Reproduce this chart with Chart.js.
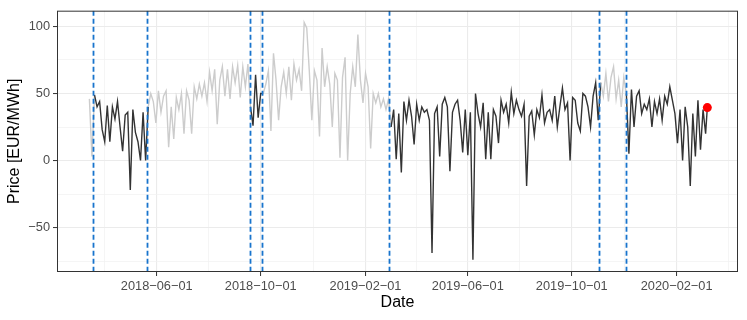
<!DOCTYPE html>
<html>
<head>
<meta charset="utf-8">
<script src="https://cdn.jsdelivr.net/npm/chart.js@4.4.0/dist/chart.umd.min.js"></script>
<style>
  html, body { margin: 0; padding: 0; background: #fff; }
  #wrap { width: 747px; height: 320px; position: relative; }
</style>
</head>
<body>
<div id="wrap"><canvas id="priceChart"></canvas></div>
<script>
/* ------------------------------------------------------------
   Data: daily price [EUR/MWh], one reading every 3 days
   grey = outside the test windows, black = inside
   ------------------------------------------------------------ */
var STEP_DAYS = 3;

var grayPreStart = '2018-03-14';
var grayPre = [46, 3];

var test1Start = '2018-03-20';
var test1 = [49, 40, 44, 23, 14, 41, 14, 40, 31, 44, 25, 7, 34, 36, -22, 38, 21, 14, 0, 36, 0];

var gray1Start = '2018-05-22';
var gray1 = [40, 50, 44, 28, 52, 36, 48, 52, 10, 40, 16, 47, 38, 50, 20, 52, 45, 20, 55, 46,
             57, 48, 58, 44, 66, 52, 68, 27, 60, 70, 48, 68, 46, 70, 58, 71, 47, 70, 55, 72];

var test2Start = '2018-09-19';
var test2 = [40, 26, 64, 32, 50];

var gray2Start = '2018-10-04';
var gray2 = [50, 57, 67, 22, 80, 60, 30, 55, 66, 50, 70, 45, 72, 60, 68, 52, 103, 99, 67, 30,
             67, 60, 18, 84, 55, 70, 57, 25, 65, 60, 2, 62, 77, 0, 50, 70, 55, 94, 60, 43,
             65, 55, 9, 50, 43, 50, 40, 46, 38, 46];

var test3Start = '2019-03-03';
var test3 = [25, 38, 1, 35, -9, 44, 30, 45, 33, 12, 42, 30, 40, 36, 38, 30, -69, 35, 40, 3,
             42, 47, 40, -8, 36, 42, 45, 30, 6, 38, 4, 36, -74, 50, 35, 25, 43, 1, 36, 1,
             38, 33, 13, 45, 36, 42, 28, 51, 35, 45, 38, 33, 42, -19, 33, 37, 19, 38, 32, 49,
             28, 36, 38, 30, 48, 25, 40, 54, 38, 43, 0, 47, 45, 28, 22, 50, 48, 40, 25, 48,
             58, 30];

var gray3Start = '2019-11-04';
var gray3 = [58, 48, 65, 44, 62, 70, 46, 60, 40, 62];

var test4Start = '2019-12-04';
var test4 = [50, 5, 53, 25, 48, 52, 35, 42, 38, 46, 25, 44, 35, 46, 30, 48, 42, 55, 45, 35,
             13, 38, 0, 40, 25, -19, 35, 3, 45, 8, 38, 20];

var lastDate = '2020-03-08';
var lastPrice = 39.5;

// dashed vertical markers (start / end of each window)
var cutDates = ['2018-03-18', '2018-05-21', '2018-09-19', '2018-10-02', '2019-03-01', '2019-11-02', '2019-12-04'];

var tickDates = ['2018-06-01', '2018-10-01', '2019-02-01', '2019-06-01', '2019-10-01', '2020-02-01'];
var yTicks = [-50, 0, 50, 100];

var xLimits = ['2018-02-04', '2020-04-13'];
var yLimits = [-83.2, 111.8];

/* ------------------------------------------------------------
   Helpers
   ------------------------------------------------------------ */
function toDay(s) {
  var p = s.split('-');
  return Date.UTC(+p[0], +p[1] - 1, +p[2]) / 86400000;
}

function midTicks(majors, min, max) {
  var out = [];
  var step = majors[1] - majors[0];
  var lo = majors[0] - step / 2;
  if (lo >= min) out.push(lo);
  for (var i = 0; i < majors.length - 1; i++) out.push((majors[i] + majors[i + 1]) / 2);
  var hi = majors[majors.length - 1] + step / 2;
  if (hi <= max) out.push(hi);
  return out;
}

var segments = [
  [grayPreStart, grayPre, false],
  [test1Start, test1, true],
  [gray1Start, gray1, false],
  [test2Start, test2, true],
  [gray2Start, gray2, false],
  [test3Start, test3, true],
  [gray3Start, gray3, false],
  [test4Start, test4, true]
];

var points = [];
var inTest = [];
segments.forEach(function(seg) {
  var d0 = toDay(seg[0]);
  seg[1].forEach(function(v, i) {
    points.push({ x: d0 + i * STEP_DAYS, y: v });
    inTest.push(seg[2]);
  });
});
points.push({ x: toDay(lastDate), y: lastPrice });
inTest.push(true);

var xMajor = tickDates.map(toDay);
var xMin = toDay(xLimits[0]), xMax = toDay(xLimits[1]);
var xMinor = midTicks(xMajor, xMin, xMax);
var yMinor = midTicks(yTicks, yLimits[0], yLimits[1]);

var FONT = "'Liberation Sans', Arial, Helvetica, sans-serif";
var BLACK_LINE = '#333333';
var GREY_LINE = '#CCCCCC';

function isMajor(list, v) {
  return list.some(function(m) { return Math.abs(m - v) < 1e-6; });
}

/* ------------------------------------------------------------
   Plugins: dashed markers and panel border
   ------------------------------------------------------------ */
var markerPlugin = {
  id: 'markers',
  afterDatasetsDraw: function(chart) {
    var ctx = chart.ctx, area = chart.chartArea, xs = chart.scales.x;
    ctx.save();
    ctx.beginPath();
    ctx.rect(area.left, area.top, area.right - area.left, area.bottom - area.top);
    ctx.clip();
    ctx.strokeStyle = '#1874CD';
    ctx.lineWidth = 1.8;
    ctx.setLineDash([5, 3]);
    cutDates.forEach(function(d) {
      var px = Math.round(xs.getPixelForValue(toDay(d))) + 0.5;
      ctx.beginPath();
      ctx.moveTo(px, area.top);
      ctx.lineTo(px, area.bottom);
      ctx.stroke();
    });
    ctx.restore();
  },
  afterDraw: function(chart) {
    var ctx = chart.ctx, a = chart.chartArea;
    ctx.save();
    ctx.strokeStyle = '#333333';
    ctx.lineWidth = 1;
    ctx.strokeRect(a.left + 0.5, a.top + 0.5, a.right - a.left - 1, a.bottom - a.top - 1);
    ctx.restore();
  }
};

/* ------------------------------------------------------------
   Chart
   ------------------------------------------------------------ */
new Chart(document.getElementById('priceChart'), {
  type: 'line',
  data: {
    datasets: [
      {
        type: 'scatter',
        data: [{ x: toDay(lastDate), y: lastPrice }],
        pointRadius: 4.5,
        pointBackgroundColor: '#FF0000',
        pointBorderColor: '#FF0000',
        pointBorderWidth: 0,
        order: 0
      },
      {
        data: points,
        borderWidth: 1.4,
        pointRadius: 0,
        tension: 0,
        fill: false,
        order: 1,
        segment: {
          borderColor: function(c) { return inTest[c.p0DataIndex] ? BLACK_LINE : GREY_LINE; }
        }
      }
    ]
  },
  options: {
    responsive: true,
    maintainAspectRatio: false,
    animation: false,
    devicePixelRatio: 1,
    layout: { padding: { left: 0, right: 9, top: 8, bottom: 0 } },
    plugins: { legend: { display: false }, tooltip: { enabled: false } },
    scales: {
      x: {
        type: 'linear',
        min: xMin,
        max: xMax,
        afterBuildTicks: function(scale) {
          scale.ticks = xMajor.concat(xMinor).sort(function(a, b) { return a - b; })
            .map(function(v) { return { value: v }; });
        },
        afterFit: function(scale) { scale.height = 48; },
        border: { display: false },
        grid: {
          color: function(c) { return c.tick && isMajor(xMajor, c.tick.value) ? '#EBEBEB' : '#F1F1F1'; },
          lineWidth: function(c) { return c.tick && isMajor(xMajor, c.tick.value) ? 1.1 : 0.7; },
          tickColor: function(c) { return c.tick && isMajor(xMajor, c.tick.value) ? '#333333' : 'rgba(0,0,0,0)'; },
          tickLength: 4,
          tickWidth: 1
        },
        ticks: {
          autoSkip: false,
          maxRotation: 0,
          padding: 3,
          color: '#4D4D4D',
          font: { family: FONT, size: 12.8 },
          callback: function(v) {
            var i = xMajor.indexOf(v);
            return i >= 0 ? tickDates[i].replace(/-/g, '\u2212') : '';
          }
        },
        title: {
          display: true,
          text: 'Date',
          color: '#000000',
          font: { family: FONT, size: 16 },
          padding: { top: 0, bottom: 7.7 }
        }
      },
      y: {
        type: 'linear',
        min: yLimits[0],
        max: yLimits[1],
        afterBuildTicks: function(scale) {
          scale.ticks = yTicks.concat(yMinor).sort(function(a, b) { return a - b; })
            .map(function(v) { return { value: v }; });
        },
        afterFit: function(scale) { scale.width = 57; },
        border: { display: false },
        grid: {
          color: function(c) { return c.tick && isMajor(yTicks, c.tick.value) ? '#EBEBEB' : '#F1F1F1'; },
          lineWidth: function(c) { return c.tick && isMajor(yTicks, c.tick.value) ? 1.1 : 0.7; },
          tickColor: function(c) { return c.tick && isMajor(yTicks, c.tick.value) ? '#333333' : 'rgba(0,0,0,0)'; },
          tickLength: 4,
          tickWidth: 1
        },
        ticks: {
          padding: 3,
          color: '#4D4D4D',
          font: { family: FONT, size: 12.8 },
          callback: function(v) {
            if (!isMajor(yTicks, v)) return '';
            return v < 0 ? '\u2212' + Math.abs(v) : String(v);
          }
        },
        title: {
          display: true,
          text: 'Price [EUR/MWh]',
          color: '#000000',
          font: { family: FONT, size: 16 },
          padding: { top: 5.4, bottom: 0 }
        }
      }
    }
  },
  plugins: [markerPlugin]
});
</script>
</body>
</html>
